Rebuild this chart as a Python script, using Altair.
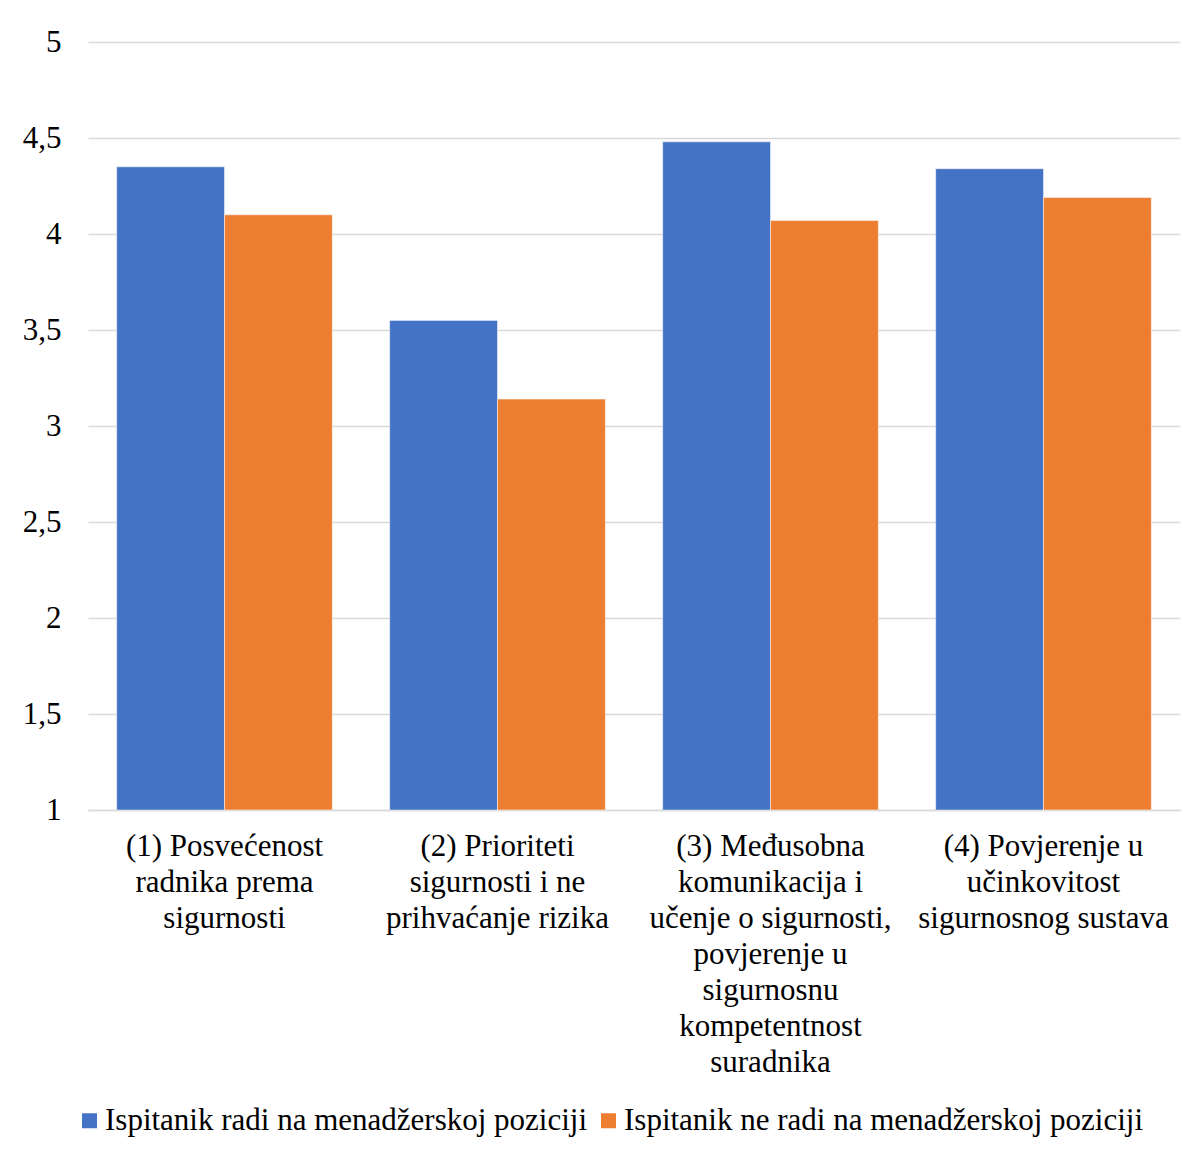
import altair as alt
import pandas as pd

categories = [
    "(1) Posvećenost|radnika prema|sigurnosti",
    "(2) Prioriteti|sigurnosti i ne|prihvaćanje rizika",
    "(3) Međusobna|komunikacija i|učenje o sigurnosti,|povjerenje u|sigurnosnu|kompetentnost|suradnika",
    "(4) Povjerenje u|učinkovitost|sigurnosnog sustava",
]
series = [
    "Ispitanik radi na menadžerskoj poziciji",
    "Ispitanik ne radi na menadžerskoj poziciji",
]
managers = [4.35, 3.55, 4.48, 4.34]
non_managers = [4.10, 3.14, 4.07, 4.19]
colors = ["#4472C4", "#ED7D31"]
y_ticks = [1, 1.5, 2, 2.5, 3, 3.5, 4, 4.5, 5]

rows = []
for c, a, b in zip(categories, managers, non_managers):
    rows.append({"cat": c, "series": series[0], "value": a})
    rows.append({"cat": c, "series": series[1], "value": b})
df = pd.DataFrame(rows)

FONT = "Liberation Serif"
FS = 31

chart = alt.Chart(df).mark_bar(stroke="white", strokeWidth=0.5).encode(
    x=alt.X("cat:N", sort=categories, title=None,
            scale=alt.Scale(paddingInner=0.21, paddingOuter=0.105),
            axis=alt.Axis(labelExpr="split(datum.label, '|')", labelAngle=0,
                          labelFontSize=FS, labelFont=FONT, labelColor="#000000",
                          labelLineHeight=36, labelPadding=21, labelLimit=0,
                          labelBaseline="top",
                          ticks=False, domain=True, domainColor="#d9d9d9",
                          domainWidth=1.5, grid=False)),
    xOffset=alt.XOffset("series:N", sort=series, scale=alt.Scale(paddingInner=0, paddingOuter=0)),
    y=alt.Y("value:Q", title=None,
            scale=alt.Scale(domain=[1, 5], nice=False, zero=False),
            axis=alt.Axis(values=y_ticks,
                          labelExpr="replace(format(datum.value, '~g'), '.', ',')",
                          labelFontSize=FS, labelFont=FONT, labelColor="#000000",
                          labelPadding=27, ticks=False, domain=False,
                          grid=True, gridColor="#d9d9d9", gridWidth=1.5)),
    y2=alt.datum(1),
    color=alt.Color("series:N", sort=series,
                    scale=alt.Scale(domain=series, range=colors),
                    legend=alt.Legend(title=None, orient="none", direction="horizontal",
                                      legendX=-14, legendY=1063,
                                      symbolType="square", symbolSize=225,
                                      symbolStrokeWidth=0, labelFontSize=FS,
                                      labelFont=FONT, labelColor="#000000",
                                      labelLimit=0, columnPadding=5,
                                      symbolOffset=0, labelOffset=0)),
).properties(
    width=1092,
    height=768,
    autosize=alt.AutoSizeParams(type="none"),
    padding={"left": 80, "top": 34, "right": 10, "bottom": 335},
).configure(background="white", view=alt.ViewConfig(strokeWidth=0))

chart.save("out.html", embed_options={"renderer": "svg", "actions": False})
